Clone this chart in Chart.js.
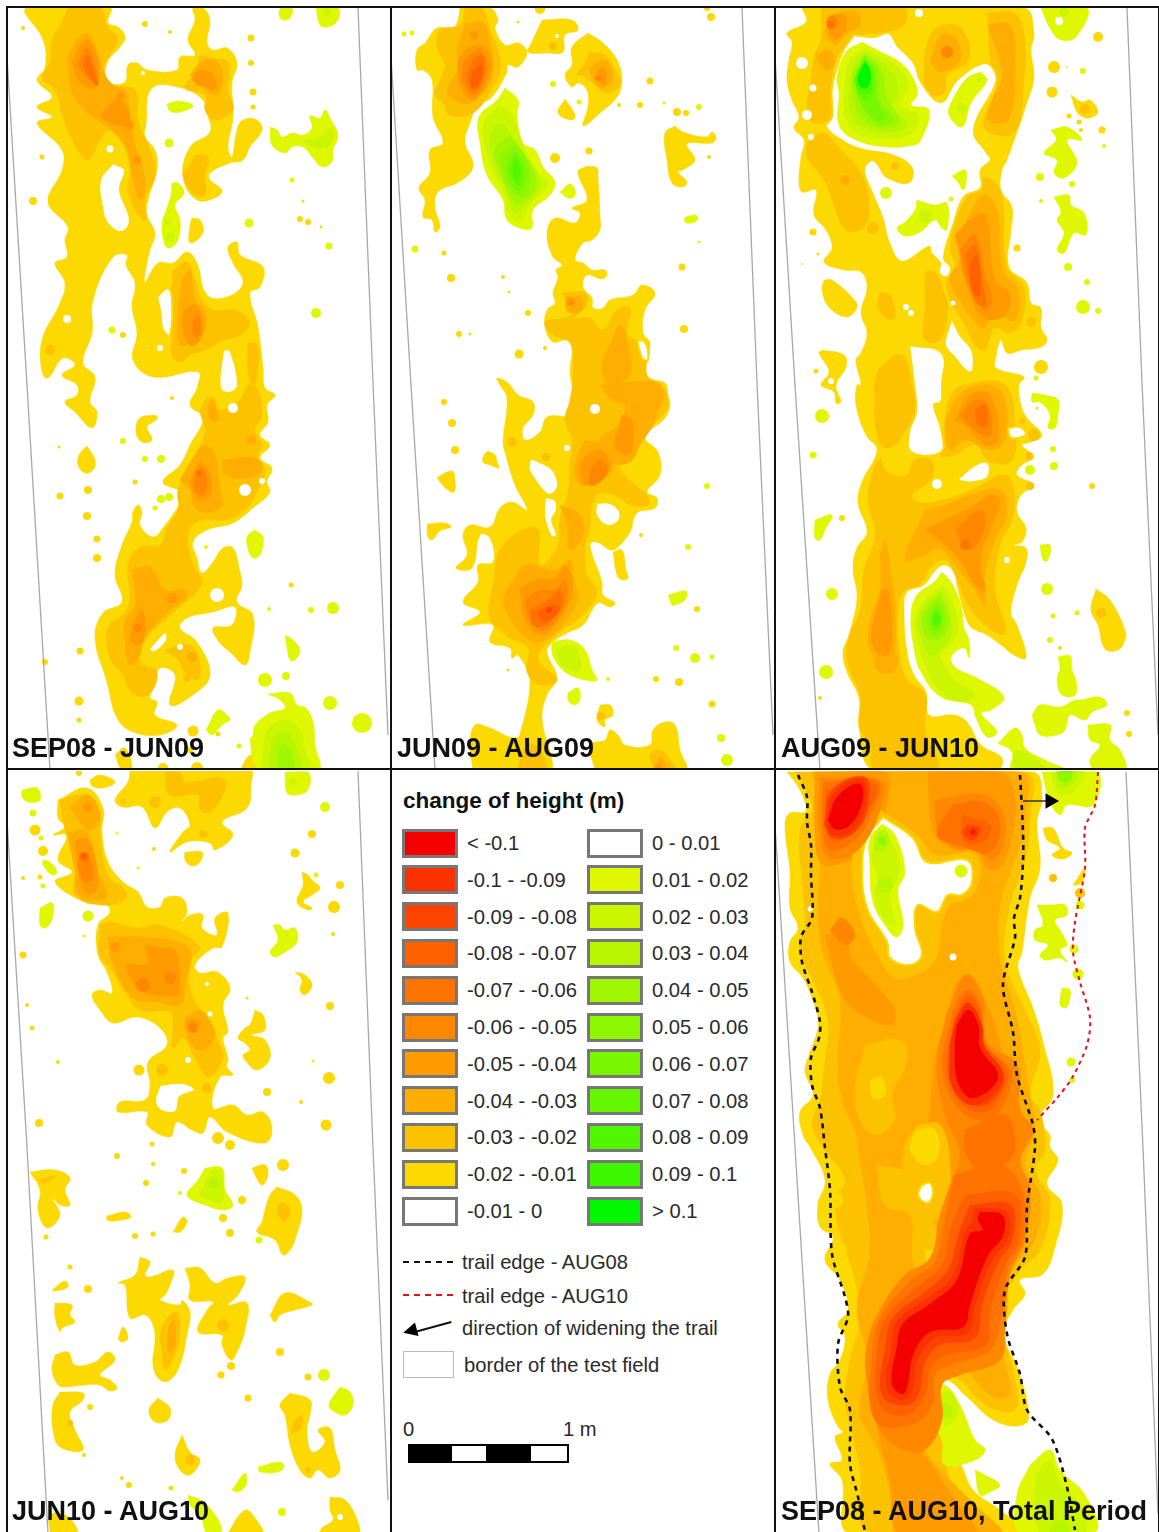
<!DOCTYPE html>
<html>
<head>
<meta charset="utf-8">
<title>change of height</title>
<script src="https://cdn.jsdelivr.net/npm/chart.js@4"></script>
<style>
html,body{margin:0;padding:0;background:#fff;}
body{position:relative;width:1159px;height:1532px;overflow:hidden;font-family:"Liberation Sans",Arial,sans-serif;color:#222;}
canvas{position:absolute;}
.rule{position:absolute;background:#111;}
.label{position:absolute;font-weight:bold;font-size:27px;line-height:30px;color:#111;white-space:nowrap;}
.t{position:absolute;font-size:20.2px;line-height:24px;white-space:nowrap;color:#2a2a2a;}
.sw{position:absolute;box-sizing:border-box;width:56px;height:29px;border:3px solid #777;}
</style>
</head>
<body>
<script>
// legend levels, colour per class of change of height
const legendLeft = ["< -0.1","-0.1 - -0.09","-0.09 - -0.08","-0.08 - -0.07","-0.07 - -0.06","-0.06 - -0.05","-0.05 - -0.04","-0.04 - -0.03","-0.03 - -0.02","-0.02 - -0.01","-0.01 - 0"];
const legendRight = ["0 - 0.01","0.01 - 0.02","0.02 - 0.03","0.03 - 0.04","0.04 - 0.05","0.05 - 0.06","0.06 - 0.07","0.07 - 0.08","0.08 - 0.09","0.09 - 0.1","> 0.1"];
const colorsLeft = ["#f50000","#fa3200","#fc4400","#ff6000","#ff7300","#ff8800","#ff9a00","#ffae00","#fcc200","#fcd900","#ffffff"];
const colorsRight = ["#ffffff","#dff700","#ccf500","#b8f500","#a0f500","#8cf700","#78f700","#64f700","#50f700","#3cf700","#00f700"];
const [m11,m10,m09,m08,m07,m06,m05,m04,m03,m02,WHITE] = colorsLeft;
const [,p01,p02,p03,p04,p05,p06,p07,p08,p09,p10] = colorsRight;

// ---- SEP08 - JUN09 (contours, page pixels)
const A_m02 = [
[25,8,110,8,108,23,118,27,125,37,120,47,107,63,108,82,125,82,128,65,137,63,147,70,177,70,180,57,195,55,188,40,195,20,193,8,203,8,210,20,207,43,213,50,227,48,237,63,232,83,233,117,228,147,232,157,237,130,243,120,257,120,262,130,250,147,243,160,230,163,210,173,210,180,222,190,217,197,197,200,183,177,190,147,210,132,207,113,203,100,182,88,152,88,146,125,145,137,155,150,157,170,148,200,147,215,155,233,150,250,147,263,145,282,158,263,173,263,187,252,197,263,207,295,227,297,243,283,233,263,228,247,237,242,240,255,263,267,260,287,250,293,258,327,263,367,265,388,275,395,267,405,268,422,260,435,270,445,260,458,272,468,267,482,270,492,253,508,233,523,207,530,193,542,197,558,202,573,213,562,223,548,233,548,240,572,242,585,237,602,253,615,250,652,245,665,230,652,220,643,213,628,232,625,235,607,213,612,187,618,180,628,197,642,210,675,193,695,170,705,175,675,160,668,155,685,150,698,157,702,155,715,177,725,160,735,133,732,117,718,107,682,95,638,103,613,122,602,115,575,122,545,132,522,133,512,138,505,142,512,140,525,153,537,163,528,183,498,182,492,163,482,180,465,190,445,203,418,190,405,197,388,198,372,153,377,133,360,137,333,132,307,135,283,126,265,127,255,113,257,93,300,92,333,83,363,95,377,90,402,97,412,92,428,75,412,65,402,77,395,77,385,62,375,75,365,63,358,48,378,42,372,42,340,60,303,65,283,55,263,67,257,65,240,68,227,48,202,62,170,62,150,37,123,52,117,37,107,52,97,37,80,45,68,43,40,25,13],
[192,218,200,220,203,233,190,243,190,225],
[87,446,95,460,93,470,85,473,78,465,79,455],
[155,415,158,418,153,422,147,427,152,440,142,442,136,432,140,418],
[115,755,125,748,132,770,122,770],
[240,770,250,755,258,760,262,770]
];
const A_d02 = [[23,28,2],[145,24,3],[170,32,2],[251,38,3.5],[251,63,3],[253,92,3.5],[253,107,2.5],[42,157,2.5],[303,201,1.5],[321,227,1.5],[300,219,3],[308,222,3],[33,201,4],[123,335,3],[60,496,3.5],[88,490,4],[87,516,4],[97,539,3.5],[97,558,4],[59,447,1.5],[135,482,2.5],[172,398,2],[80,651,3.5],[45,662,3],[79,701,4.5],[79,720,2.5],[193,731,5.5],[218,734,2.5],[291,585,2.5],[163,768,5],[197,768,6],[190,750,3]];
const A_m03 = [
[68,8,100,8,108,28,118,38,103,70,110,85,135,90,138,120,150,150,155,175,145,200,146,220,138,215,128,190,130,170,125,150,110,130,100,140,88,160,75,145,62,115,55,90,42,78,50,62,52,40,62,22],
[200,55,213,58,228,62,228,90,233,110,215,120,205,110,205,95,185,88,195,72],
[195,155,208,157,205,175,205,195,195,195,183,175,190,165],
[173,270,187,262,195,280,202,300,215,310,235,310,250,322,240,335,225,340,205,350,190,355,180,362,172,355,172,330,170,300,172,285],
[248,342,257,345,258,370,253,388,248,370],
[205,400,213,397,220,410,240,400,248,385,258,390,262,415,255,430,262,445,258,455,265,470,258,490,245,510,225,520,205,520,190,528,188,545,193,565,202,583,185,602,167,618,147,638,140,662,157,672,148,695,132,693,123,675,110,658,108,628,125,612,130,598,128,565,140,547,160,545,167,528,178,510,178,490,187,470,198,450,205,430,200,410],
[165,650,190,645,200,665,198,680,185,672,178,660]
];
const A_d03 = [[50,350,5],[187,678,4]];
const A_hole = [
[113,163,125,170,120,190,130,220,122,232,107,223,102,207,100,180],
[157,297,168,288,172,300,170,335,163,330,160,310],
[223,350,230,350,238,385,230,393,220,388],
[148,650,165,632,167,640,155,652]
];
const A_dhole = [[67,319,4],[110,149,3.5],[160,348,3],[233,408,5],[245,490,6],[262,481,3],[217,595,7],[180,647,3],[143,73,2]];
const A_m04 = [
[68,55,85,33,95,45,103,70,113,85,125,90,130,115,135,145,142,165,145,190,140,200,132,175,125,145,105,125,90,115,80,105,70,85],
[190,75,205,60,220,65,222,85,215,95,200,85],
[182,280,190,270,195,300,205,312,205,330,195,340,180,345,178,310],
[180,480,195,455,205,445,215,455,220,490,222,505,210,512,195,508,190,490],
[222,460,255,458,262,470,250,478,225,475],
[208,405,213,400,218,420,210,420],
[132,570,150,567,165,590,185,590,185,600,170,610,155,625,143,640,140,655,130,665,125,640,125,620,135,605]
];
const A_d04 = [[192,657,5],[251,440,5]];
const A_m05 = [
[72,62,85,40,95,50,100,75,95,88,80,82],
[192,80,200,70,213,75,215,90,205,87],
[100,115,118,100,130,115,125,125,108,122],
[183,310,195,305,203,320,200,340,190,345,183,330],
[190,480,200,463,210,475,210,495,200,500,192,490],
[133,625,142,610,145,630,140,645,130,640]
];
const A_d05 = [[129,125,5],[137,160,4],[120,96,4],[200,80,6],[172,598,5]];
const A_m06 = [[78,65,87,48,95,65,97,80,88,78],[193,320,198,315,200,335,193,335],[195,478,200,468,207,478,203,495,195,490]];
const A_d06 = [[138,628,4]];
const A_m07 = [[83,65,88,55,94,72,97,85,90,78]];
const A_d07 = [[199,473,3]];
const A_p01 = [
[280,8,292,8,290,18,283,20,279,15],
[316,8,338,8,338,20,328,27,320,25],
[167,104,180,101,193,106,180,112,170,111],
[270,127,277,130,282,137,292,133,303,135,312,128,310,116,320,118,325,110,330,118,338,135,333,150,332,162,322,167,313,158,303,147,292,147,285,153,272,145],
[172,183,178,183,184,193,175,205,180,220,178,240,170,248,165,245,162,225,168,205,171,195],
[255,530,263,537,260,555,253,558,247,545,248,535],
[206,730,218,710,228,716,230,720,222,725,212,735],
[285,635,293,640,300,650,295,660,290,660,287,648],
[268,694,290,693,297,705,306,708,313,722,315,745,318,770,260,770,250,740,253,735,255,725,270,713,285,708,280,700]
];
const A_dp01 = [[169,143,4.5],[292,180,2.5],[249,223,4.5],[329,246,3.5],[112,330,3.5],[316,313,5],[161,499,4],[169,497,4],[155,508,2.5],[123,441,3],[145,459,3],[161,459,4],[206,547,2],[333,608,6],[311,610,3],[269,609,2],[265,680,7],[286,676,4],[330,703,7],[362,723,10],[239,746,2.5]];
const A_p02 = [[302,140,318,138,330,128,334,136,325,148,310,146],[263,750,268,730,285,720,300,730,305,750,310,770,265,770]];
const A_dp02 = [[327,12,4],[168,222,3],[170,237,5]];
const A_p03 = [[272,740,285,732,295,745,300,770,272,770]];
const A_p04 = [[278,750,285,745,292,755,293,770,280,770]];

// ---- JUN09 - AUG09
const B_m02 = [
[460,8,490,8,498,20,495,28,505,45,518,43,527,52,518,67,508,65,507,72,492,97,477,107,470,123,465,142,473,163,470,173,457,183,438,192,435,207,440,227,435,232,432,220,423,217,425,200,419,188,430,173,430,150,443,143,433,117,432,80,423,70,417,70,417,50,425,43,437,28,453,28,458,20],
[542,20,572,20,578,30,565,35,563,52,548,53,528,52,532,42],
[588,33,603,43,617,60,622,80,617,97,600,113,583,126,588,107,587,90,578,83,572,87,565,75,572,65,572,47],
[565,99,575,115,572,120,558,113],
[675,126,683,132,707,137,712,132,716,138,712,143,687,144,695,160,683,170,678,172,687,182,682,187,672,183,667,160,665,133],
[587,166,597,168,598,177,600,217,600,230,592,240,583,243,575,260,583,263,592,270,605,270,607,275,602,279,587,275,583,287,592,298,593,308,603,308,610,300,633,295,642,285,655,293,645,310,643,333,650,343,647,377,665,383,668,395,670,405,665,418,645,437,658,452,660,475,647,492,657,498,655,508,637,513,630,532,617,548,610,550,597,542,590,545,602,582,603,595,615,603,610,607,598,603,583,625,567,633,553,642,547,652,557,678,547,695,542,718,550,770,517,770,530,682,518,655,512,658,510,648,490,642,493,625,463,625,480,612,463,602,478,582,478,565,493,562,490,538,480,535,472,568,456,568,467,555,463,535,470,525,490,527,500,508,512,502,527,510,515,485,505,452,503,442,507,398,500,385,497,378,508,383,518,395,533,402,533,415,523,428,525,440,540,432,547,417,572,415,575,402,572,385,570,373,572,343,565,340,553,342,545,327,547,310,555,303,553,293,558,277,556,270,562,265,553,257,547,233,555,218,575,223,580,213,572,208,587,200,578,172],
[488,451,495,455,497,462,499,468,490,465,483,462,484,455],
[437,477,452,471,455,480,454,492,448,490,440,482],
[427,524,445,523,451,527,440,531,432,540,428,537],
[613,552,622,550,626,570,628,578,622,580,617,575],
[600,705,610,705,613,715,605,720,605,727,597,720],
[595,770,590,745,605,740,610,730,618,735,625,745,650,745,653,730,665,722,675,725,680,750,685,770],
[473,770,470,745,475,725,490,728,515,738,530,730,545,745,550,770]
];
const B_d02 = [[540,9,5],[711,17,4],[707,8,3],[518,22,1.5],[650,81,3.5],[640,105,3],[619,105,2],[677,112,4],[686,113,3],[444,253,2.5],[451,278,4],[503,277,2],[509,292,1.5],[528,313,3],[459,334,3],[470,334,1.5],[682,267,3.5],[684,329,4],[545,348,2],[519,354,4.5],[555,158,5],[589,151,3.5],[709,157,2],[444,402,3],[452,423,4],[455,450,4],[712,704,3.5],[679,682,4],[656,679,3],[697,609,3],[641,535,2],[508,670,1.5]];
const B_m03 = [
[465,8,482,8,490,30,498,50,500,70,490,92,473,113,450,115,443,103,435,95,440,80,445,65,437,48,440,30,460,25],
[590,52,605,55,615,70,620,85,605,93,595,85,582,75,577,75,585,62],
[562,293,585,293,587,305,575,318,590,318,603,330,617,310,630,308,628,335,645,345,647,375,662,385,668,405,660,418,642,432,627,450,620,468,635,485,648,497,648,505,630,505,620,498,600,493,592,505,590,528,585,548,587,575,597,592,580,618,560,632,538,658,557,680,540,685,527,672,528,648,510,638,490,618,493,585,503,545,537,528,540,565,557,548,560,518,568,492,570,462,572,440,565,420,570,400,573,375,570,343,553,335,545,322,565,318,575,312,570,305],
[655,770,650,755,660,750,670,760,675,770],
[517,770,527,745,540,750,545,770]
];
const B_d03 = [[553,46,4],[601,716,4],[512,442,5],[546,457,4]];
const B_hole = [
[637,340,645,342,648,360,642,358],
[530,458,540,462,553,470,558,483,555,492,547,494,535,480,529,470],
[545,497,555,500,557,510,552,520,557,535,552,537,547,527,544,515],
[596,503,610,503,620,512,617,523,605,525,596,515]
];
const B_dhole = [[557,36,2],[595,409,5],[567,448,3]];
const B_m04 = [
[465,25,482,22,492,50,493,72,487,88,470,103,455,100,447,90,458,70,457,50],
[595,62,608,62,612,80,600,88,590,70],
[612,340,620,325,628,345,630,375,610,385,602,370,605,355],
[565,297,580,297,582,310,568,312],
[600,385,660,385,655,420,640,445,630,462,612,462,600,440,618,425,625,405,612,400],
[585,440,608,447,612,470,595,480,582,485,575,475,578,455],
[560,505,580,515,583,535,570,550,567,525],
[513,580,525,565,555,570,570,560,573,575,577,600,565,622,545,640,530,640,510,618,503,600],
[657,770,660,757,668,770]
];
const B_m05 = [
[465,50,480,45,490,55,490,75,480,95,470,100,460,85,458,62],
[598,70,605,68,605,85,597,78],
[622,415,632,420,632,450,625,455,615,445,618,430],
[583,458,600,450,610,465,603,478,585,485,580,470],
[520,588,535,580,555,578,565,565,572,580,570,600,555,625,540,635,525,620]
];
const B_d05 = [[474,35,4],[571,302,4],[658,768,4]];
const B_m06 = [
[470,55,480,50,487,65,483,85,473,95,463,82,463,65],
[590,470,600,460,608,470,600,482,590,485],
[525,600,540,590,555,590,565,580,565,605,545,630,530,620]
];
const B_d06 = [[598,78,3],[571,303,2]];
const B_m07 = [[472,62,482,55,484,72,478,88,472,90,467,78],[530,610,548,600,560,590,562,605,545,625,533,625]];
const B_m08 = [[474,70,482,65,480,82,473,88,471,78],[538,612,552,605,560,608,550,620,540,620]];
const B_d09 = [[549,610,3]];
const B_p01 = [
[505,88,518,100,517,115,523,143,535,150,543,167,555,182,550,195,533,210,532,228,523,229,507,220,503,200,487,175,480,143,479,117,497,100],
[552,642,570,640,585,650,592,670,597,680,590,681,570,675,558,665,552,653],
[568,693,578,688,580,700,574,705,568,700],
[560,192,570,184,575,190,574,197,568,198],
[685,217,695,215,698,219,692,223,685,222],
[668,595,686,591,685,600,675,605,672,605]
];
const B_dp01 = [[404,34,2.5],[412,33,2.5],[553,84,3],[579,102,2.5],[699,107,3],[664,103,1.5],[699,242,1.5],[415,249,3.5],[676,648,3],[695,658,5],[712,657,2.5],[608,679,2],[721,738,4],[727,760,6],[688,547,3],[707,486,3]];
const B_p02 = [[500,105,512,115,525,150,540,175,548,185,530,205,520,222,508,212,505,195,492,170,484,140,485,120],[556,650,572,645,580,660,578,672,562,665]];
const B_p03 = [[505,125,520,150,535,170,540,187,525,205,515,213,508,195,497,170,490,145,495,125]];
const B_p04 = [[510,135,525,155,535,175,535,190,522,200,513,200,500,170,495,150]];
const B_p05 = [[515,145,527,160,530,180,525,195,513,192,503,170,502,155]];
const B_p06 = [[514,150,525,165,525,185,516,190,507,170]];
const B_p07 = [[516,155,522,170,520,185,515,183,510,168]];
const B_p08 = [[516,158,520,170,517,182,513,170]];

// ---- AUG09 - JUN10
const C_m02 = [
[802,8,1024,8,1034,33,1031,50,1034,77,1027,103,1007,160,1002,170,1001,190,1012,207,1011,230,1009,267,1027,283,1031,303,1041,308,1041,327,1047,340,1041,347,1022,350,1007,353,1001,340,996,357,996,368,1024,377,1019,385,1021,405,1027,418,1042,435,1031,442,1022,445,1034,457,1022,465,1017,475,1034,485,1021,495,1017,512,1026,528,1022,542,1014,545,1026,548,1026,562,1017,585,1011,613,1017,625,1026,658,1014,655,1001,645,987,635,971,627,964,612,957,585,954,572,944,565,934,572,924,585,907,592,904,608,907,652,914,675,926,692,929,715,954,715,967,722,981,745,1002,758,997,770,874,770,859,728,859,698,847,672,843,652,849,635,857,598,853,568,857,548,867,532,858,503,862,482,877,450,866,435,856,405,857,385,861,385,856,360,861,353,867,333,861,313,867,287,861,272,844,270,824,262,832,248,826,230,814,215,816,190,802,192,799,180,801,157,804,140,794,128,799,117,792,100,787,80,789,60,792,42,787,33,806,22],
[822,350,844,355,846,367,836,385,841,402,836,403,834,392,821,385,829,372,819,353],
[824,280,832,280,856,302,856,310,846,317,829,307,822,290],
[1071,95,1082,102,1090,100,1098,112,1090,118,1083,117,1077,112],
[1096,589,1110,600,1125,630,1125,640,1118,650,1105,649,1098,625,1091,610]
];
const C_d02 = [[1098,37,5],[1054,67,6],[1052,92,5.5],[1067,67,1],[1069,116,2.5],[1079,122,2.5],[1081,130,2],[1102,130,3.5],[1017,248,3.5],[813,232,3.5],[818,254,1.5],[816,371,2.5],[1041,367,7],[1092,486,3],[820,698,2],[1060,648,2],[1127,713,3],[1129,734,3],[842,518,3],[1037,408,1.5]];
const C_m03 = [
[821,8,904,8,904,25,884,32,862,35,851,42,837,57,832,80,831,117,814,123,807,110,811,80,814,57,821,40],
[807,143,824,133,841,150,861,173,869,203,864,227,846,230,832,200,824,180,807,157],
[924,57,934,30,960,27,969,60,947,75,944,93,927,93],
[987,13,1014,13,1024,33,1024,80,1014,133,984,127,997,83,991,63],
[954,223,967,197,984,177,1001,193,1007,267,1024,287,1022,320,1011,333,994,328,985,350,975,345,965,325,950,300,947,277,955,265,950,250],
[925,272,935,272,945,295,948,310,940,340,925,340,925,305],
[880,292,890,295,895,318,885,318,878,305],
[874,385,880,368,902,355,912,385,917,405,906,430,890,448,878,440],
[881,458,887,472,907,475,914,460,931,460,932,478,912,495,920,503,950,498,975,488,1005,475,1014,490,1012,520,1000,545,995,590,1005,625,1003,635,985,625,968,605,955,575,945,560,930,568,920,585,905,590,898,610,900,655,906,678,925,695,925,730,937,770,875,770,870,745,860,728,860,695,848,665,848,640,860,610,864,570,875,535,868,500,875,465],
[941,457,945,420,951,395,964,385,1005,385,1015,430,1012,460,990,462,975,445,955,455]
];
const C_d03 = [[873,228,6],[895,166,4],[1031,322,5],[1085,109,5],[1101,613,5],[1034,435,6],[1022,421,3],[1029,456,4],[1030,486,4]];
const C_hole = [
[854,35,874,37,889,33,897,45,914,63,921,82,941,102,957,80,984,63,994,70,996,83,974,130,987,153,991,160,981,170,981,188,964,197,954,223,944,258,951,267,947,277,939,273,940,263,931,253,929,247,902,262,889,243,882,217,872,193,864,170,871,160,877,163,887,177,909,182,911,167,891,155,864,150,846,143,826,127,832,117,832,87,842,53],
[952,318,960,335,972,350,973,370,968,372,955,358,945,345,948,330],
[909,345,942,353,942,385,941,402,934,405,941,428,941,452,911,452,909,432,916,412,914,385],
[1008,428,1020,427,1026,434,1018,438,1010,437],
[957,480,975,465,988,463,988,477,975,482,965,482]
];
const C_dhole = [[802,63,6],[813,88,3.5],[807,115,5],[811,137,3],[919,13,4],[906,307,3],[911,313,3],[953,303,2.5],[937,484,5],[1007,560,3],[831,381,3]];
const C_m04 = [
[840,12,857,12,860,25,845,35,835,45,825,30],
[815,55,830,50,834,65,825,70],
[988,25,1010,25,1015,70,1008,120,988,120,992,100,1002,75],
[930,60,942,35,955,38,960,60,940,72],
[958,240,972,210,985,195,997,210,1003,270,1018,290,1015,320,995,315,983,328,970,315,950,280,960,260],
[945,420,965,390,1000,390,1005,440,990,450,965,440,950,450],
[925,510,945,505,970,495,1000,490,1007,515,995,540,985,575,985,605,975,590,955,565,940,548,925,555,905,560],
[880,555,885,540,892,580,895,610,893,660,885,660,870,650,870,620,880,590]
];
const C_d04 = [[845,180,5],[886,662,12]];
const C_m05 = [
[830,15,843,15,846,28,835,40,828,28],
[955,235,970,220,985,215,995,280,1010,295,1005,315,985,318,970,295],
[955,420,970,395,990,395,998,440,985,445,965,425],
[925,530,945,520,975,505,990,495,1000,500,990,530,980,560,985,590,975,585,960,560,945,545],
[882,590,888,590,892,625,888,655,875,650,872,630]
];
const C_m06 = [
[960,250,975,235,985,275,992,300,985,310,970,290],
[960,415,975,400,988,405,990,435,975,430],
[955,530,980,510,985,525,970,550]
];
const C_d06 = [[832,22,6],[947,52,6]];
const C_m07 = [[965,255,975,245,982,280,985,305,975,300],[975,410,985,405,987,425,978,425]];
const C_d07 = [[831,25,4],[965,545,5]];
const C_m08 = [[970,265,977,255,980,295,973,292]];
const C_p01 = [
[862,42,881,52,901,63,914,80,917,95,911,105,929,110,921,140,914,145,887,147,856,140,839,125,839,93,837,77,846,52],
[981,72,987,80,971,103,962,127,949,115,951,103,967,78],
[952,176,965,170,966,183,963,190,958,182],
[917,200,935,205,947,203,947,230,942,228,935,220,920,232,905,236,897,228,905,222,915,210],
[1041,8,1087,8,1076,37,1061,40,1051,30],
[1051,130,1067,127,1082,140,1067,140,1077,163,1064,178,1054,173,1057,160,1044,153,1056,140],
[1054,197,1069,195,1071,205,1084,213,1086,235,1074,233,1064,253,1057,250,1064,233,1057,220,1061,212],
[815,520,832,515,825,530,820,540,815,538],
[1040,545,1050,545,1048,560,1043,560],
[1032,393,1045,395,1058,400,1058,415,1055,428,1048,428,1050,415,1040,402,1032,402],
[1058,657,1070,656,1072,670,1076,680,1075,695,1062,695,1057,680,1060,668],
[1032,715,1040,705,1060,707,1075,700,1080,700,1100,697,1107,705,1092,712,1085,720,1070,715,1065,730,1057,735,1040,735,1035,725],
[1088,725,1110,725,1110,740,1120,750,1125,770,1095,770,1090,760,1100,745,1090,740],
[998,743,1015,728,1022,735,1025,748,1045,760,1065,770,1012,770,1012,752],
[942,572,951,582,961,605,964,628,969,640,969,658,964,648,951,657,956,668,977,678,1004,697,991,710,981,713,997,732,987,737,976,718,971,705,941,697,921,672,914,648,911,615,917,595,934,582]
];
const C_dp01 = [[1083,71,3],[1040,177,4],[1072,184,3],[1041,201,2],[1068,267,4],[1087,282,3],[1083,307,7],[1098,311,3],[1104,146,2],[1036,378,2.5],[802,264,1],[886,193,6],[951,199,2.5],[822,416,7],[813,455,3.5],[832,594,6],[826,672,7],[1047,589,6],[1053,616,2.5],[1077,613,2.5],[1053,449,3],[1054,466,4],[1030,470,5],[1050,640,3]];
const C_white = [[1059,21,4]];
const C_p02 = [
[865,48,900,68,908,85,900,105,918,115,912,133,885,138,855,132,845,115,845,85,850,60],
[942,585,952,600,958,630,950,645,940,655,955,680,975,695,960,702,940,690,925,665,918,640,915,620,925,600],
[1015,770,1015,752,1030,755,1045,770]
];
const C_dp02 = [[962,108,5],[980,80,3],[925,216,7],[1064,12,5]];
const C_p03 = [[865,52,890,70,898,90,890,112,905,120,905,128,885,132,860,125,850,110,850,85,855,62],[942,590,950,610,950,635,940,650,930,655,921,635,918,618,930,600]];
const C_p04 = [[865,55,880,68,888,100,900,122,880,128,862,118,855,100,852,80,857,65],[940,595,948,615,947,630,937,640,925,635,923,615,930,605]];
const C_p05 = [[865,55,878,70,880,100,893,120,880,125,865,112,858,95,854,80],[938,600,945,615,943,628,934,635,927,625,928,612]];
const C_p06 = [[865,58,875,70,877,100,885,118,875,120,860,100,856,80],[937,605,942,615,940,627,934,630,930,620]];
const C_p07 = [[865,58,873,72,872,95,865,100,858,90,855,78],[936,610,941,618,938,626,933,624]];
const C_p08 = [[865,60,871,75,870,92,860,92,857,78],[935,612,940,619,937,625,933,620]];
const C_p09 = [[866,62,870,75,868,88,860,85,858,78]];
const C_p10 = [[865,62,870,70,869,85,862,88,858,78]];

// ---- JUN10 - AUG10
const D_m02 = [
[58,800,87,788,103,808,102,832,108,862,123,882,138,892,147,907,160,907,165,898,182,898,187,912,182,922,190,915,203,915,202,928,217,935,215,918,228,913,222,947,213,948,195,965,200,973,217,972,230,988,223,1005,228,1032,223,1038,228,1058,227,1067,233,1075,220,1077,213,1108,233,1105,247,1115,263,1112,272,1128,265,1143,227,1132,210,1117,203,1133,192,1130,177,1122,170,1137,147,1125,147,1112,118,1112,120,1102,145,1100,150,1085,148,1062,167,1045,160,1028,137,1017,113,1023,100,1010,92,995,100,990,112,993,107,972,98,955,98,925,110,912,103,902,87,903,55,882,72,872,58,860,67,835,53,835,65,827,58,818],
[130,770,250,770,251,785,247,808,222,822,233,835,215,850,210,843,187,842,170,852,183,832,190,825,180,808,167,812,155,828,142,807,122,807,115,800,128,782],
[185,852,202,852,200,862,192,866,185,860],
[90,780,100,775,115,782,103,788,92,786],
[255,1010,263,1015,265,1030,252,1035,265,1040,270,1058,257,1070,245,1060,243,1055,250,1050,245,1043,238,1038,245,1028,250,1025],
[302,872,308,875,312,880,320,888,312,895,303,902,312,908,308,910,297,902,303,885],
[295,972,305,975,312,985,305,995,300,990,302,980],
[30,1172,55,1170,70,1178,65,1190,70,1205,60,1205,52,1198,60,1215,47,1228,38,1210,40,1190],
[277,1187,295,1195,302,1210,295,1240,290,1250,283,1255,275,1240,257,1232,262,1222,265,1210,270,1195],
[252,1168,265,1165,268,1175,262,1185,255,1175],
[107,1216,125,1212,131,1217,115,1221,107,1220],
[173,1232,183,1217,187,1222,180,1232],
[52,1290,65,1281,68,1287,55,1291],
[140,1257,150,1262,145,1275,150,1277,173,1270,170,1285,165,1295,160,1300,180,1305,182,1300,190,1312,187,1335,180,1365,170,1380,160,1380,153,1365,155,1340,153,1325,145,1315,130,1318,125,1285,118,1283,135,1275],
[185,1268,200,1268,215,1283,228,1278,245,1277,238,1295,228,1305,247,1303,245,1330,238,1350,231,1360,222,1345,222,1335,198,1332,207,1310,213,1302,190,1300,190,1285],
[270,1315,285,1293,310,1302,312,1305,295,1310,280,1315,275,1322],
[55,1303,72,1305,70,1315,75,1322,62,1328,60,1332,55,1317],
[118,1339,123,1327,128,1338,122,1342],
[55,1355,68,1352,75,1365,95,1362,108,1352,115,1360,100,1375,110,1380,117,1388,110,1391,100,1385,85,1385,65,1387,58,1385,52,1370],
[60,1392,83,1393,83,1400,70,1412,75,1430,83,1450,60,1447,53,1430,53,1405],
[158,1398,170,1408,168,1420,155,1422,149,1410],
[290,1393,310,1400,310,1415,307,1430,312,1452,325,1442,318,1430,330,1428,335,1450,340,1470,330,1478,318,1470,310,1478,300,1470,290,1445,285,1415,280,1405],
[182,1435,190,1452,200,1460,190,1475,180,1470,175,1455],
[50,1534,50,1515,65,1515,75,1525,77,1534],
[227,1534,245,1510,255,1518,262,1534],
[330,1497,345,1500,358,1522,358,1534,320,1534,322,1528,333,1520,330,1510]
];
const D_d02 = [[79,773,3],[35,830,5.5],[43,851,5],[23,955,3.5],[23,878,2],[40,877,2.5],[27,1005,2],[32,1028,2.5],[58,1062,2],[139,1070,5.5],[154,849,2],[295,853,4.5],[312,834,4],[340,885,4],[334,907,6],[333,934,2],[330,1006,4],[329,1078,6],[267,1092,4],[301,1102,2],[326,1125,5.5],[39,1123,4],[152,1144,2.5],[218,1138,6],[230,1145,5],[247,998,1.5],[283,1165,6],[242,1200,4],[223,1218,4],[230,1233,4],[135,1236,3],[153,1234,2.5],[46,1237,2.5],[184,1171,3],[146,1183,3],[117,1156,3],[153,1164,2],[70,1267,2.5],[88,1289,4],[231,1366,4],[221,1375,3.5],[280,1352,4],[90,1407,3],[84,1455,2],[248,1398,3.5],[308,1377,3.5],[122,1478,2],[129,1485,3],[171,1488,2.5]];
const D_hole = [[160,1085,183,1083,195,1090,180,1097,177,1110,173,1113,160,1110,155,1100]];
const D_dhole = [[188,1060,3],[210,1014,2.5],[207,984,2],[188,991,2],[340,1517,3]];
const D_m03 = [
[60,800,87,795,100,815,100,835,108,875,125,890,125,900,100,905,75,895,75,870,65,830,62,815],
[165,772,180,772,185,782,222,778,225,790,210,812,200,810,198,795,170,795],
[100,925,110,922,137,928,160,925,200,947,190,962,192,995,210,1022,217,1038,223,1058,208,1077,195,1058,183,1038,173,1048,173,1025,170,1012,140,1010,125,992,113,972,100,955],
[278,1205,283,1203,290,1210,285,1221,278,1215],
[165,1320,177,1312,180,1335,175,1355,165,1370,162,1350,160,1335],
[295,1420,302,1415,300,1430,292,1432],
[38,1180,55,1176,45,1183]
];
const D_d03 = [[155,802,6],[123,801,3],[203,834,4],[207,1088,5],[162,1070,6],[70,1423,3],[190,1460,5],[308,1470,3],[223,1325,6]];
const D_m04 = [
[70,808,88,795,100,812,97,825,88,830],
[68,832,87,832,97,870,107,897,80,897,75,872],
[107,937,143,937,188,948,185,987,180,1005,157,1002,133,998,113,965],
[185,1018,200,1010,212,1025,215,1035,207,1048,195,1048,185,1030],
[169,1325,174,1320,175,1345,168,1352]
];
const D_m05 = [[75,840,88,840,98,875,95,892,85,892,78,870],[145,945,160,948,175,950,180,985,178,995,155,995,140,990,127,970,127,965,147,963]];
const D_d05 = [[88,807,5],[115,947,5],[193,1025,7]];
const D_m06 = [[82,855,90,860,93,878,85,882,78,865]];
const D_d06 = [[143,985,7],[170,978,6],[193,1028,5]];
const D_d07 = [[84,857,5]];
const D_d08 = [[84,856,3]];
const D_p01 = [
[22,790,37,788,40,800,28,802,22,797],
[43,860,50,862,57,872,52,875,43,865],
[40,908,52,903,52,920,45,928,40,925],
[285,772,308,772,308,790,295,795,287,793],
[273,925,280,925,285,930,295,928,297,942,285,952,275,957,270,952,278,940],
[205,1168,222,1168,225,1190,233,1205,225,1210,205,1205,187,1195,198,1180],
[340,1387,350,1392,353,1405,345,1415,335,1412,329,1405],
[258,1467,280,1462,284,1467,278,1472,260,1472],
[232,1490,245,1473,246,1485,238,1492],
[188,1495,205,1503,222,1530,208,1534,200,1515,190,1505]
];
const D_dp01 = [[33,813,3.5],[41,838,2.5],[43,886,2.5],[88,916,5.5],[117,833,1.5],[138,868,1.5],[84,936,1.5],[325,807,5],[316,875,2.5],[313,1061,1.5],[180,1193,2],[259,1240,3.5],[324,1375,6],[282,1512,4]];
const D_p02 = [[200,1195,212,1170,220,1172,224,1195,218,1203]];
const D_dp02 = [[293,782,4]];
const D_dp03 = [[213,1183,5]];

// ---- SEP08 - AUG10, Total Period
const E_m02 = [
[787,772,1033,772,1042,798,1037,822,1040,868,1030,898,1022,952,1018,968,1033,1008,1043,1042,1053,1095,1037,1120,1050,1135,1050,1147,1058,1160,1047,1184,1062,1204,1055,1247,1043,1274,1020,1280,1025,1294,1013,1310,1003,1334,1017,1367,1028,1407,1025,1424,997,1422,967,1397,947,1380,932,1385,927,1404,933,1434,955,1467,960,1464,973,1490,1000,1510,1027,1534,850,1534,842,1480,830,1464,842,1460,835,1437,843,1432,838,1427,828,1400,830,1374,840,1360,845,1337,838,1324,848,1310,840,1280,825,1260,833,1237,820,1227,818,1204,825,1180,810,1147,803,1135,800,1112,813,1095,805,1072,808,1058,817,1032,818,1018,812,998,803,978,790,962,790,942,798,928,790,908,790,872,785,825,790,813,805,812,805,802,797,785],
[1043,828,1053,828,1063,848,1072,853,1063,859,1052,855,1060,848,1047,840],
[1073,885,1085,868,1083,880,1078,885]
];
const E_m03 = [
[795,772,1025,772,1030,820,1025,860,1010,905,1005,960,1025,1010,1040,1050,1030,1095,1040,1110,1045,1150,1035,1170,1050,1200,1040,1250,1020,1270,1000,1310,1005,1340,1015,1380,1015,1410,985,1405,960,1380,940,1375,925,1395,945,1435,950,1480,975,1505,1000,1534,870,1534,860,1470,852,1430,845,1400,850,1360,860,1320,855,1280,842,1240,835,1200,845,1180,825,1150,812,1125,820,1100,825,1060,828,1020,815,985,800,950,805,925,802,880,800,830,812,810,806,790]
];
const E_d03 = [[1080,893,5],[1053,878,4]];
const E_m04 = [
[812,772,1020,772,1025,820,1015,860,1000,905,1000,960,1015,1010,1030,1095,1035,1130,1025,1165,1040,1195,1035,1240,1015,1265,995,1300,995,1335,1005,1365,1010,1395,990,1395,960,1365,935,1365,915,1385,917,1415,925,1450,950,1480,975,1505,1000,1534,897,1534,893,1514,887,1480,877,1447,860,1414,867,1360,857,1307,870,1254,867,1207,860,1160,855,1130,842,1100,838,1060,840,1000,822,950,818,905,820,870,822,810]
];
const E_m05 = [
[815,772,885,772,888,800,868,848,835,865,820,862,815,830],
[928,772,1000,772,1015,800,1005,860,990,870,975,850,955,850,935,835,930,810],
[825,935,850,930,850,955,880,990,895,1012,890,1025,855,1010,840,990],
[955,985,965,975,985,1000,1005,1060,1015,1085,1020,1110,1030,1135,1020,1160,1030,1190,1020,1240,1005,1265,990,1300,985,1325,985,1350,960,1350,935,1340,915,1370,910,1405,915,1440,935,1470,955,1500,975,1534,900,1534,890,1480,878,1430,875,1380,880,1340,890,1300,915,1280,945,1260,955,1220,945,1195,930,1180,925,1150,930,1110,935,1060,945,1025]
];
const E_l03 = [
[865,1045,900,1040,907,1060,892,1095,895,1120,875,1135,860,1120,855,1090],
[877,1165,915,1175,925,1195,945,1260,950,1265,925,1280,913,1260,910,1215,885,1205],
[880,810,917,835,935,855,975,855,978,885,965,900,950,905,942,925,935,960,915,975,895,978,880,960,860,915,852,870,860,830],
[918,1125,940,1125,950,1165,945,1215,925,1215,905,1175,905,1145]
];
const E_l02 = [[870,1080,882,1078,885,1095,873,1098],[915,1130,935,1130,938,1155,925,1165,910,1150],[925,1250,945,1250,950,1262,930,1270]];
const E_d02 = [[835,1200,8],[840,1250,7]];
const E_hole = [
[883,817,913,838,927,862,967,860,972,882,962,895,948,895,937,912,918,905,915,928,922,955,910,965,890,958,887,942,867,908,862,868,867,838],
[922,1185,930,1183,933,1195,927,1203,918,1195]
];
const E_dhole = [[953,957,3.5],[810,909,2.5]];
const E_p01 = [
[882,824,895,835,905,872,898,890,903,925,897,937,887,928,873,902,870,865,870,838],
[1042,772,1097,772,1093,805,1067,805,1060,815,1050,802],
[1037,905,1050,905,1065,905,1067,915,1055,920,1060,930,1067,945,1060,950,1067,962,1060,958,1045,960,1040,955,1048,945,1035,940,1035,930,1043,925],
[1062,988,1070,990,1068,1005,1065,1008,1060,1005],
[933,1390,945,1385,960,1405,975,1440,985,1450,975,1460,945,1465,942,1440,928,1415],
[975,1470,985,1475,1000,1485,990,1492,980,1495],
[1030,1465,1050,1450,1060,1470,1085,1495,1095,1532,1020,1532,1017,1495]
];
const E_dp01 = [[961,871,6.5],[1071,1062,4.5],[1072,1080,3],[1080,905,4.5],[1078,974,5.5],[1074,949,4.5]];
const E_p02 = [[880,828,893,845,900,870,890,895,895,925,885,920,875,895,878,880,872,860,875,840],[1050,772,1085,772,1075,790,1060,795],[1035,1475,1050,1460,1058,1480,1080,1505,1085,1532,1040,1532],[938,1395,950,1392,958,1415,945,1425]];
const E_p03 = [[875,835,885,830,890,845,885,850,875,850],[1055,772,1078,772,1070,785,1060,787],[945,1402,952,1410,948,1418,942,1412]];
const E_dp03 = [[885,885,8],[1060,1530,10]];
const E_p04 = [[1057,772,1073,772,1066,783]];
const E_dp04 = [[882,841,5]];
const E_dp05 = [[882,841,3],[1065,775,7]];
const E_m06 = [
[820,778,880,780,883,800,860,848,830,858,820,832],
[935,800,985,795,1005,820,995,860,975,850,955,848,938,830],
[830,930,842,918,855,935,845,945],
[947,1012,967,975,983,998,987,1042,1017,1065,1020,1110,1033,1130,1020,1160,1030,1190,1025,1240,1010,1275,1005,1330,1000,1360,960,1375,942,1385,942,1420,925,1450,905,1450,880,1430,867,1380,867,1345,880,1310,905,1275,930,1258,940,1215,950,1185,960,1155,945,1115,937,1065]
];
const E_m07 = [
[823,782,878,782,868,820,855,840,830,850,823,830],
[953,805,983,802,1000,822,990,852,960,845,937,835],
[953,1010,967,990,980,1005,985,1045,1010,1070,1003,1105,985,1120,960,1110,943,1070],
[965,1130,1005,1115,1015,1140,1010,1160,980,1170,965,1150],
[955,1175,1000,1165,1022,1190,1022,1240,1008,1270,1000,1320,990,1350,950,1365,935,1375,932,1405,910,1425,875,1420,873,1350,882,1315,912,1280,935,1262,945,1220,950,1195]
];
const E_m08 = [
[826,790,876,785,866,815,850,835,833,840,826,825],
[962,815,990,825,983,842,963,840],
[955,1015,968,995,980,1010,983,1040,1007,1072,998,1100,982,1112,960,1102,947,1070],
[965,1195,1015,1195,1018,1240,1005,1265,990,1310,985,1345,945,1355,930,1368,925,1395,905,1415,880,1405,878,1345,888,1315,920,1285,942,1265,952,1225]
];
const E_m09 = [
[824,825,832,790,865,777,868,805,855,832,833,838],
[967,825,980,828,973,840,963,833],
[955,1020,968,1003,980,1020,982,1045,1004,1077,985,1105,958,1095,950,1065],
[970,1205,1010,1205,1012,1240,998,1262,982,1305,975,1338,940,1345,925,1362,918,1395,905,1405,882,1395,886,1345,893,1318,925,1292,948,1270,960,1230]
];
const E_m10 = [
[826,822,835,792,862,780,866,802,853,830,833,835],
[953,1030,967,1003,982,1025,984,1045,1003,1077,975,1105,953,1088,950,1050],
[975,1208,1006,1212,1008,1238,992,1260,975,1305,968,1332,935,1338,918,1358,912,1390,902,1400,887,1388,892,1345,898,1320,928,1298,953,1276,965,1232,972,1222]
];
const E_d10 = [[973,832,4]];
const E_m11 = [
[828,820,838,796,860,784,862,802,850,825,835,829],
[957,1025,968,1010,978,1025,980,1048,998,1077,973,1098,958,1082,955,1048],
[980,1212,1002,1215,1003,1235,987,1257,970,1304,963,1327,930,1332,913,1355,907,1387,902,1394,892,1384,897,1347,903,1324,930,1304,957,1280,970,1234,983,1230,978,1220]
];
const E_d11 = [[973,832,1.5]];

// trail edges and test field borders
const trailAug08Left = [798,775,807,797,807,822,811,845,811,875,812,918,801,937,802,962,812,992,820,1022,819,1038,811,1058,812,1085,820,1108,825,1148,830,1190,832,1254,845,1297,848,1317,838,1344,840,1387,850,1410,850,1464,858,1497,865,1532];
const trailAug08Right = [1020,775,1023,832,1023,862,1020,898,1014,918,1015,938,1003,985,1013,1032,1017,1075,1033,1125,1035,1148,1027,1207,1025,1257,1005,1290,1007,1334,1020,1374,1027,1410,1052,1439,1067,1487,1075,1530];
const trailAug10 = [1098,772,1095,805,1085,828,1085,868,1075,922,1073,952,1080,982,1090,1018,1087,1045,1072,1078,1057,1098,1037,1120];
const wideningShaft = [1023,801,1046,801];
const wideningHead = [[1050,801]];
const borderA = [[7,57,27,385,50,770],[358,8,373,383,388,735]];
const borderB = [[391,57,411,385,435,770],[742,8,757,383,773,735]];
const borderC = [[775,57,795,385,820,770],[1127,8,1142,383,1158,735]];
const borderD = [[7,820,27,1147,48,1534],[358,771,373,1148,388,1500]];
const borderE = [[775,825,795,1147,819,1534],[1126,772,1143,1148,1158,1514]];

const panelA = [[m02,A_m02,A_d02],[m03,A_m03,A_d03],[WHITE,A_hole,A_dhole],[m04,A_m04,A_d04],[m05,A_m05,A_d05],[m06,A_m06,A_d06],[m07,A_m07,A_d07],[p01,A_p01,A_dp01],[p02,A_p02,A_dp02],[p03,A_p03],[p04,A_p04]];
const panelB = [[m02,B_m02,B_d02],[m03,B_m03,B_d03],[WHITE,B_hole,B_dhole],[m04,B_m04],[m05,B_m05,B_d05],[m06,B_m06,B_d06],[m07,B_m07],[m08,B_m08],[m09,[],B_d09],[p01,B_p01,B_dp01],[p02,B_p02],[p03,B_p03],[p04,B_p04],[p05,B_p05],[p06,B_p06],[p07,B_p07],[p08,B_p08]];
const panelC = [[m02,C_m02,C_d02],[m03,C_m03,C_d03],[WHITE,C_hole,C_dhole],[m04,C_m04,C_d04],[m05,C_m05],[m06,C_m06,C_d06],[m07,C_m07,C_d07],[m08,C_m08],[p01,C_p01,C_dp01],[WHITE,[],C_white],[p02,C_p02,C_dp02],[p03,C_p03],[p04,C_p04],[p05,C_p05],[p06,C_p06],[p07,C_p07],[p08,C_p08],[p09,C_p09],[p10,C_p10]];
const panelD = [[m02,D_m02,D_d02],[WHITE,D_hole,D_dhole],[m03,D_m03,D_d03],[m04,D_m04],[m05,D_m05,D_d05],[m06,D_m06,D_d06],[m07,[],D_d07],[m08,[],D_d08],[p01,D_p01,D_dp01],[p02,D_p02,D_dp02],[p03,[],D_dp03]];
const panelE = [[m02,E_m02],[m03,E_m03,E_d03],[m04,E_m04],[m05,E_m05],[m03,E_l03],[m02,E_l02,E_d02],[WHITE,E_hole,E_dhole],[p01,E_p01,E_dp01],[p02,E_p02],[p03,E_p03,E_dp03],[p04,E_p04,E_dp04],[p05,[],E_dp05],[m06,E_m06],[m07,E_m07],[m08,E_m08],[m09,E_m09],[m10,E_m10,E_d10],[m11,E_m11,E_d11]];

function toPoints(flat) {
  const pts = [];
  for (let i = 0; i < flat.length; i += 2) pts.push({ x: flat[i], y: flat[i + 1] });
  return pts;
}

function layerDatasets(layer) {
  const [color, polys, dots] = layer;
  const out = polys.map((flat) => {
    const pts = toPoints(flat);
    pts.push(pts[0]);
    return {
      data: pts, showLine: true, fill: "shape", tension: 0.4,
      backgroundColor: color,
      borderColor: color === WHITE ? m02 : color,
      borderWidth: color === WHITE ? 2 : 0.5,
      pointRadius: 0,
    };
  });
  if (dots && dots.length) {
    out.push({
      data: dots.map((d) => ({ x: d[0], y: d[1] })),
      showLine: false,
      pointRadius: dots.map((d) => d[2]),
      pointBackgroundColor: color, pointBorderWidth: 0,
    });
  }
  return out;
}

function lineDataset(flat, color, width, dash) {
  return { data: toPoints(flat), showLine: true, fill: false, tension: 0.3, borderColor: color, borderWidth: width, borderDash: dash || [], pointRadius: 0 };
}

function drawPanel(left, top, width, height, layers, extras) {
  const canvas = document.createElement("canvas");
  canvas.width = width; canvas.height = height;
  canvas.style.left = left + "px"; canvas.style.top = top + "px";
  document.body.appendChild(canvas);
  const datasets = layers.flatMap(layerDatasets).concat(extras);
  // chart.js paints dataset 0 last, so order counts down
  datasets.forEach((d, i) => { d.order = datasets.length - i; });
  new Chart(canvas, {
    type: "scatter",
    data: { datasets },
    options: {
      responsive: false, animation: false, events: [],
      layout: { padding: 0, autoPadding: false },
      plugins: { legend: { display: false }, tooltip: { enabled: false } },
      scales: {
        x: { type: "linear", display: false, min: left, max: left + width },
        y: { type: "linear", display: false, reverse: true, min: top, max: top + height },
      },
    },
  });
}

const grey = (b) => b.map((f) => Object.assign(lineDataset(f, "#a8a8a8", 1.3), { tension: 0 }));

drawPanel(8, 8, 382, 761, panelA, grey(borderA));
drawPanel(392, 8, 382, 761, panelB, grey(borderB));
drawPanel(776, 8, 382, 761, panelC, grey(borderC));
drawPanel(8, 771, 382, 761, panelD, grey(borderD));
drawPanel(776, 771, 382, 761, panelE, grey(borderE).concat([
  lineDataset(trailAug08Left, "#111", 2.6, [5, 5]),
  lineDataset(trailAug08Right, "#111", 2.6, [5, 5]),
  lineDataset(trailAug10, "#e3101c", 2, [4, 4]),
  lineDataset(wideningShaft, "#333", 1.5),
  { data: wideningHead.map((p) => ({ x: p[0], y: p[1] })), showLine: false, pointStyle: "triangle", rotation: 90, pointRadius: 9, pointBackgroundColor: "#000", pointBorderWidth: 0 },
]));

// frame, labels and legend are plain page elements on top of the charts
function rule(x, y, w, h) {
  const d = document.createElement("div");
  d.className = "rule";
  d.style.cssText = `left:${x}px;top:${y}px;width:${w}px;height:${h}px`;
  document.body.appendChild(d);
}
rule(6, 6, 1153, 2); rule(6, 768, 1153, 2);
rule(6, 6, 2, 1526); rule(390, 6, 2, 1526); rule(774, 6, 2, 1526); rule(1158, 6, 1, 1526);

function text(cls, x, yMid, str, extra) {
  const d = document.createElement("div");
  d.className = cls;
  d.textContent = str;
  d.style.left = x + "px";
  d.style.top = yMid + "px";
  d.style.transform = "translateY(-50%)";
  if (extra) d.style.cssText += extra;
  document.body.appendChild(d);
}
text("label", 12, 748, "SEP08 - JUN09");
text("label", 397, 748, "JUN09 - AUG09");
text("label", 781, 748, "AUG09 - JUN10");
text("label", 12, 1511, "JUN10 - AUG10");
text("label", 781, 1511, "SEP08 - AUG10, Total Period");

text("t", 403, 801, "change of height (m)", "font-weight:bold;font-size:22.5px;color:#111");
legendLeft.forEach((s, i) => {
  const y = 843 + i * 36.8;
  const d = document.createElement("div");
  d.className = "sw";
  d.style.cssText = `left:402px;top:${y - 14.5}px;background:${colorsLeft[i]}`;
  document.body.appendChild(d);
  text("t", 467, y, s);
});
legendRight.forEach((s, i) => {
  const y = 843 + i * 36.8;
  const d = document.createElement("div");
  d.className = "sw";
  d.style.cssText = `left:587px;top:${y - 14.5}px;background:${colorsRight[i]}`;
  document.body.appendChild(d);
  text("t", 652, y, s);
});

function dashed(y, color) {
  const d = document.createElement("div");
  d.style.cssText = `position:absolute;left:403px;top:${y}px;width:50px;height:0;border-top:2px dashed ${color}`;
  document.body.appendChild(d);
}
dashed(1261, "#111"); dashed(1294, "#e3101c");
text("t", 462, 1262, "trail edge - AUG08");
text("t", 462, 1296, "trail edge - AUG10");
text("t", 462, 1328, "direction of widening the trail");
text("t", 464, 1365, "border of the test field");
const box = document.createElement("div");
box.style.cssText = "position:absolute;box-sizing:border-box;left:403px;top:1351px;width:51px;height:27px;border:1.5px solid #bbb";
document.body.appendChild(box);

const arrowShaft = document.createElement("div");
arrowShaft.style.cssText = "position:absolute;left:414px;top:1326px;width:38px;height:2px;background:#111;transform:rotate(-15deg)";
document.body.appendChild(arrowShaft);
const arrowTip = document.createElement("div");
arrowTip.style.cssText = "position:absolute;left:403px;top:1324px;width:0;height:0;border-top:7px solid transparent;border-bottom:7px solid transparent;border-right:14px solid #000;transform:rotate(-15deg)";
document.body.appendChild(arrowTip);

text("t", 403, 1429, "0");
text("t", 563, 1429, "1 m");
[[408, 42, "#000"], [450, 38, "#fff"], [488, 41, "#000"], [529, 40, "#fff"]].forEach(([x, w, c]) => {
  const d = document.createElement("div");
  d.style.cssText = `position:absolute;box-sizing:border-box;left:${x}px;top:1444px;width:${w}px;height:19px;background:${c};border:2px solid #000`;
  document.body.appendChild(d);
});
</script>
</body>
</html>
